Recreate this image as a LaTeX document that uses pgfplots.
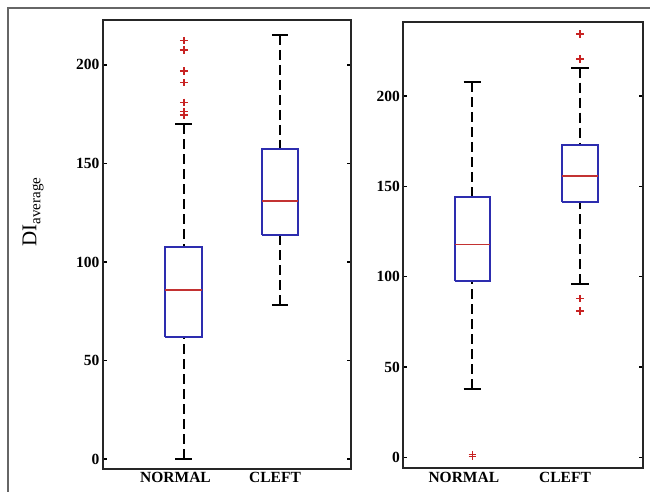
\documentclass[border=0pt]{standalone}
\usepackage{pgfplots}
\pgfplotsset{compat=1.18}
\usepackage{fontspec}
\setmainfont{Liberation Serif}
\definecolor{boxblue}{RGB}{45,45,175}
\definecolor{outred}{RGB}{200,35,35}
\definecolor{medred}{RGB}{195,50,50}
\pgfplotsset{
  mybox/.style={
    scale only axis,
    anchor=south west,
    tick align=inside,
    xtick style={draw=none},
    ytick style={line width=1.4bp, black},
    major tick length=4bp,
    axis line style={line width=2bp, black!85},
    ytick={0,50,100,150,200},
    /pgf/number format/assume math mode=true,
    tick label style={font=\fontsize{15.5bp}{18bp}\selectfont\bfseries},
  },
  boxs/.style={draw=boxblue, line width=2bp, mark=none},
  meds/.style={draw=medred, line width=1.7bp, mark=none},
  whis/.style={draw=black, line width=1.9bp, dash pattern=on 10bp off 5bp, mark=none},
  caps/.style={draw=black, line width=1.9bp, mark=none},
  outs/.style={only marks, mark=+, mark size=3.8bp, mark options={line width=1.6bp, outred}},
}
\begin{document}
\begin{tikzpicture}
\useasboundingbox (0,0) rectangle (650bp,492bp);
\fill[white] (0,0) rectangle (650bp,492bp);
\draw[black!60, line width=1.5bp] (8bp,-2bp) -- (8bp,484bp) -- (652bp,484bp);
\node[rotate=90, font=\fontsize{21bp}{24bp}\selectfont] at (33bp,280bp)
  {DI\raisebox{-4bp}{\fontsize{15bp}{18bp}\selectfont average}};

% Left panel: NORMAL (x=1) and CLEFT (x=2)
\begin{axis}[mybox, at={(103bp,23bp)}, width=248bp, height=449bp,
  xmin=0.162, xmax=2.737, ymin=-5.08, ymax=222.8,
  xtick={0.915,1.948}, xticklabels={NORMAL,CLEFT}]
% NORMAL: whiskers 0 / 169.9, quartiles 62.1 / 107.5, median 85.8
\addplot[whis] coordinates {(1,0) (1,62.1)};
\addplot[whis] coordinates {(1,169.9) (1,107.5)};
\addplot[caps] coordinates {(0.9145,0) (1.0855,0)};
\addplot[caps] coordinates {(0.9145,169.9) (1.0855,169.9)};
\addplot[boxs] coordinates {(0.8105,62.1) (1.1895,62.1) (1.1895,107.5) (0.8105,107.5) (0.8105,62.1)};
\addplot[meds] coordinates {(0.8105,85.8) (1.1895,85.8)};
\addplot[outs] coordinates {(1,212.3) (1,207.6) (1,196.8) (1,191.0) (1,180.9) (1,176.3) (1,174.6)};
% CLEFT: whiskers 78.2 / 215.2, quartiles 113.7 / 157.5, median 131.0
\addplot[whis] coordinates {(2,78.2) (2,113.7)};
\addplot[whis] coordinates {(2,215.2) (2,157.5)};
\addplot[caps] coordinates {(1.9145,78.2) (2.0855,78.2)};
\addplot[caps] coordinates {(1.9145,215.2) (2.0855,215.2)};
\addplot[boxs] coordinates {(1.8105,113.7) (2.1895,113.7) (2.1895,157.5) (1.8105,157.5) (1.8105,113.7)};
\addplot[meds] coordinates {(1.8105,131.0) (2.1895,131.0)};
\end{axis}

% Right panel
\begin{axis}[mybox, at={(403.3bp,23.7bp)}, width=239.4bp, height=446.6bp,
  xmin=0.359, xmax=2.582, ymin=-6.1, ymax=241.1,
  xtick={0.921,1.861}, xticklabels={NORMAL,CLEFT}]
% NORMAL: whiskers 37.8 / 207.7, quartiles 97.8 / 144.3, median 117.8
\addplot[whis] coordinates {(1,37.8) (1,97.8)};
\addplot[whis] coordinates {(1,207.7) (1,144.3)};
\addplot[caps] coordinates {(0.9195,37.8) (1.0805,37.8)};
\addplot[caps] coordinates {(0.9195,207.7) (1.0805,207.7)};
\addplot[boxs] coordinates {(0.8345,97.8) (1.1655,97.8) (1.1655,144.3) (0.8345,144.3) (0.8345,97.8)};
\addplot[meds] coordinates {(0.8345,117.8) (1.1655,117.8)};
\addplot[outs] coordinates {(1,0.5) (1,1.5)};
% CLEFT: whiskers 95.8 / 215.7, quartiles 141.3 / 173.0, median 155.7
\addplot[whis] coordinates {(2,95.8) (2,141.3)};
\addplot[whis] coordinates {(2,215.7) (2,173.0)};
\addplot[caps] coordinates {(1.9195,95.8) (2.0805,95.8)};
\addplot[caps] coordinates {(1.9195,215.7) (2.0805,215.7)};
\addplot[boxs] coordinates {(1.8345,141.3) (2.1655,141.3) (2.1655,173.0) (1.8345,173.0) (1.8345,141.3)};
\addplot[meds] coordinates {(1.8345,155.7) (2.1655,155.7)};
\addplot[outs] coordinates {(2,234.2) (2,220.5) (2,87.8) (2,81.0)};
\end{axis}
\end{tikzpicture}
\end{document}
